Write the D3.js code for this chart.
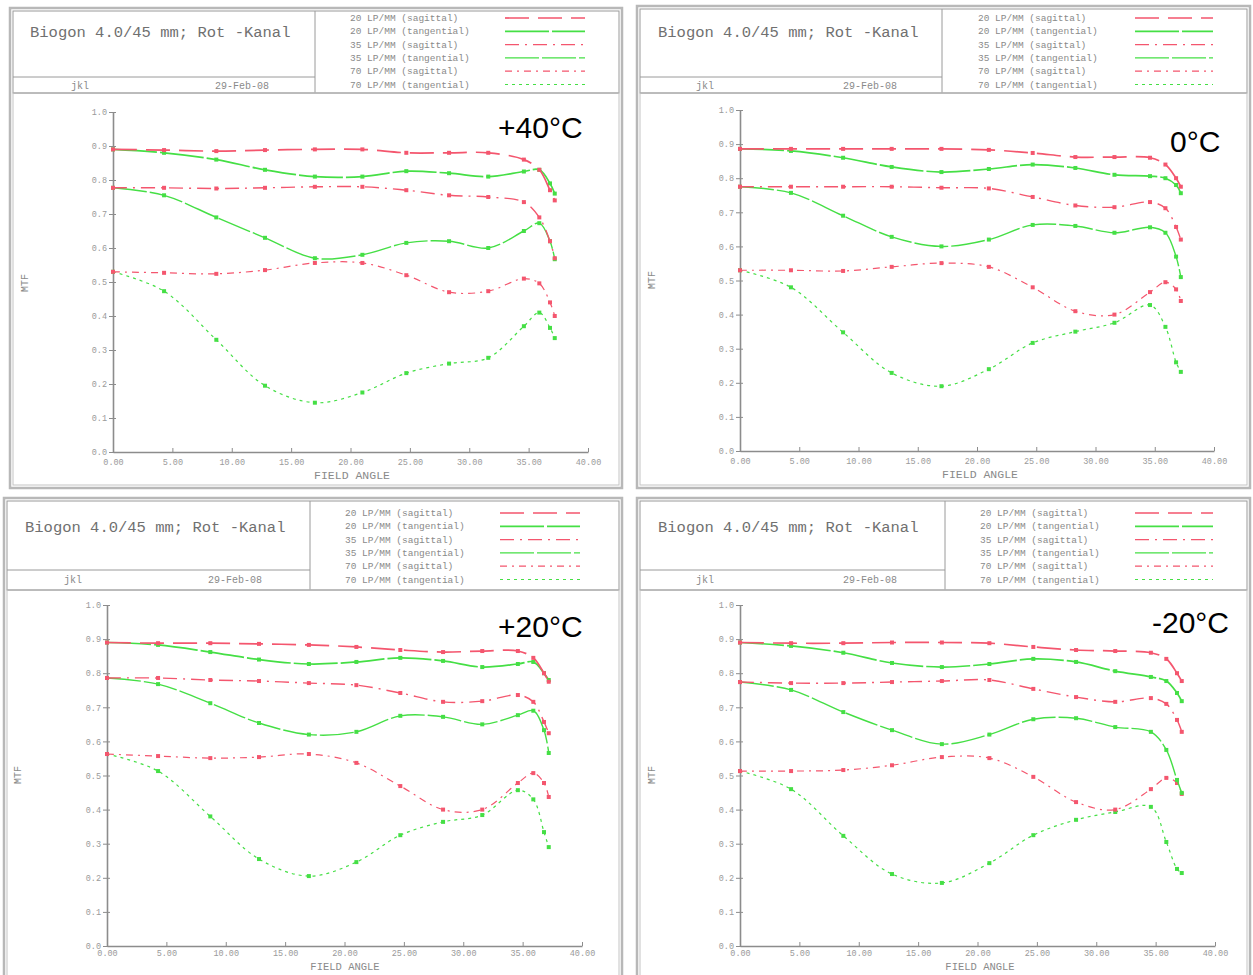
<!DOCTYPE html>
<html><head><meta charset="utf-8">
<script src="https://cdn.jsdelivr.net/npm/d3@7"></script>
<style>body{margin:0;background:#fff;} svg{display:block;}</style>
</head><body>
<svg id="chart" width="1253" height="975"></svg>
<script>
// ---------------- DATA ----------------
const fieldAngles = [0, 4.3, 8.7, 12.8, 17.0, 21.0, 24.7, 28.3, 31.6, 34.6, 35.9, 36.8, 37.2];
const seriesNames = ["20 LP/MM (sagittal)", "20 LP/MM (tangential)", "35 LP/MM (sagittal)",
                     "35 LP/MM (tangential)", "70 LP/MM (sagittal)", "70 LP/MM (tangential)"];
const temperatures = ["+40°C", "0°C", "+20°C", "-20°C"];
const xTicks = [0, 5, 10, 15, 20, 25, 30, 35, 40];
const yTicks = [0, 0.1, 0.2, 0.3, 0.4, 0.5, 0.6, 0.7, 0.8, 0.9, 1.0];
const chartTitle = "Biogon 4.0/45 mm; Rot -Kanal";
const authorLabel = "jkl";
const dateLabel = "29-Feb-08";
const xAxisLabel = "FIELD ANGLE";
const yAxisLabel = "MTF";

const mtfPlus40 = [
  [0.89, 0.888, 0.885, 0.888, 0.89, 0.89, 0.88, 0.88, 0.88, 0.86, 0.83, 0.77, 0.74],
  [0.89, 0.88, 0.86, 0.83, 0.81, 0.81, 0.826, 0.82, 0.81, 0.825, 0.83, 0.79, 0.76],
  [0.777, 0.777, 0.775, 0.777, 0.78, 0.78, 0.77, 0.755, 0.75, 0.735, 0.69, 0.62, 0.57],
  [0.777, 0.755, 0.69, 0.63, 0.57, 0.58, 0.615, 0.62, 0.60, 0.65, 0.673, 0.62, 0.567],
  [0.53, 0.527, 0.524, 0.535, 0.556, 0.556, 0.52, 0.47, 0.473, 0.51, 0.496, 0.44, 0.40],
  [0.53, 0.473, 0.33, 0.195, 0.145, 0.175, 0.232, 0.26, 0.277, 0.37, 0.41, 0.365, 0.335]
];
const mtfZero = [
  [0.886, 0.886, 0.886, 0.886, 0.886, 0.883, 0.874, 0.862, 0.862, 0.86, 0.84, 0.80, 0.775],
  [0.886, 0.88, 0.86, 0.833, 0.818, 0.827, 0.84, 0.83, 0.81, 0.806, 0.80, 0.78, 0.756],
  [0.775, 0.775, 0.775, 0.775, 0.772, 0.77, 0.745, 0.72, 0.715, 0.73, 0.712, 0.657, 0.62],
  [0.775, 0.757, 0.69, 0.628, 0.60, 0.62, 0.663, 0.66, 0.64, 0.656, 0.64, 0.57, 0.51],
  [0.53, 0.53, 0.528, 0.54, 0.551, 0.54, 0.48, 0.41, 0.40, 0.466, 0.495, 0.474, 0.44],
  [0.53, 0.48, 0.348, 0.229, 0.19, 0.24, 0.317, 0.35, 0.376, 0.428, 0.364, 0.26, 0.232]
];
const mtfPlus20 = [
  [0.89, 0.888, 0.888, 0.886, 0.883, 0.877, 0.868, 0.862, 0.865, 0.865, 0.845, 0.80, 0.775],
  [0.89, 0.883, 0.862, 0.84, 0.827, 0.833, 0.845, 0.836, 0.818, 0.827, 0.833, 0.80, 0.78],
  [0.786, 0.786, 0.78, 0.777, 0.771, 0.765, 0.742, 0.716, 0.718, 0.736, 0.716, 0.657, 0.624],
  [0.786, 0.768, 0.712, 0.654, 0.62, 0.628, 0.675, 0.672, 0.65, 0.677, 0.69, 0.633, 0.566],
  [0.563, 0.557, 0.551, 0.554, 0.563, 0.537, 0.469, 0.40, 0.40, 0.478, 0.507, 0.478, 0.437],
  [0.563, 0.513, 0.38, 0.255, 0.205, 0.246, 0.325, 0.364, 0.384, 0.457, 0.43, 0.334, 0.29]
];
const mtfMinus20 = [
  [0.89, 0.888, 0.888, 0.89, 0.89, 0.888, 0.877, 0.868, 0.865, 0.86, 0.842, 0.80, 0.777],
  [0.89, 0.88, 0.86, 0.83, 0.818, 0.827, 0.842, 0.833, 0.806, 0.789, 0.777, 0.742, 0.718],
  [0.774, 0.771, 0.771, 0.774, 0.777, 0.78, 0.754, 0.73, 0.716, 0.727, 0.71, 0.663, 0.628],
  [0.774, 0.751, 0.686, 0.633, 0.592, 0.62, 0.665, 0.668, 0.642, 0.628, 0.575, 0.487, 0.449],
  [0.513, 0.513, 0.516, 0.53, 0.554, 0.551, 0.496, 0.422, 0.40, 0.46, 0.493, 0.478, 0.446],
  [0.513, 0.46, 0.323, 0.211, 0.185, 0.243, 0.325, 0.37, 0.393, 0.408, 0.305, 0.226, 0.214]
];
const panelData = [mtfPlus40, mtfZero, mtfPlus20, mtfMinus20];

// ---------------- STYLE / LAYOUT ----------------
const RED = "#f4566e", GREEN = "#45df45";
const seriesStyle = [
  {color: RED,   dash: "24,9",        w: 1.7},
  {color: GREEN, dash: "44,3",        w: 1.7},
  {color: RED,   dash: "14,6,2,6",    w: 1.4},
  {color: GREEN, dash: "34,3",        w: 1.4},
  {color: RED,   dash: "7,5,2,5",     w: 1.2},
  {color: GREEN, dash: "3,4",         w: 1.2}
];
const layouts = [
  {fx0: 10,  fy0: 8,   fx1: 622,  fy1: 488, div: 315, jl: 77,  hb: 93,  px0: 113, px1: 588,  py0: 452, py1: 112,
   titleX: 30, titleY: 37, jklX: 80, dateX: 242, rowY: 89, legX: 350, legY0: 21, legL0: 505, legL1: 585,
   faX: 352, faY: 479, faSize: 11.5, tickPad: 7, mtfX: 28, mtfY: 283, tX: 498, tY: 138},
  {fx0: 637, fy0: 6,   fx1: 1250, fy1: 488, div: 942, jl: 77,  hb: 93,  px0: 740, px1: 1214, py0: 451, py1: 110,
   titleX: 658, titleY: 37, jklX: 705, dateX: 870, rowY: 89, legX: 978, legY0: 21, legL0: 1135, legL1: 1213,
   faX: 980, faY: 478, faSize: 11.5, tickPad: 7, mtfX: 655, mtfY: 280, tX: 1170, tY: 152},
  {fx0: 4,   fy0: 498, fx1: 622,  fy1: 979, div: 310, jl: 570, hb: 590, px0: 107, px1: 582,  py0: 946, py1: 605,
   titleX: 25, titleY: 532, jklX: 73, dateX: 235, rowY: 583, legX: 345, legY0: 516, legL0: 500, legL1: 580,
   faX: 345, faY: 970, faSize: 10.5, tickPad: 4, mtfX: 21, mtfY: 775, tX: 498, tY: 637},
  {fx0: 637, fy0: 498, fx1: 1250, fy1: 979, div: 945, jl: 570, hb: 590, px0: 740, px1: 1215, py0: 946, py1: 605,
   titleX: 658, titleY: 532, jklX: 705, dateX: 870, rowY: 583, legX: 980, legY0: 516, legL0: 1135, legL1: 1213,
   faX: 980, faY: 970, faSize: 10.5, tickPad: 4, mtfX: 655, mtfY: 775, tX: 1152, tY: 633}
];

const svg = d3.select("#chart");
const MONO = "'Liberation Mono','DejaVu Sans Mono',monospace";
const GREY = "#8a8a8a";

layouts.forEach((L, pi) => {
  const g = svg.append("g");
  // frame
  g.append("rect").attr("x", L.fx0).attr("y", L.fy0).attr("width", L.fx1 - L.fx0).attr("height", L.fy1 - L.fy0)
    .attr("fill", "#fff").attr("stroke", "#b8b8b8").attr("stroke-width", 2.5);
  g.append("rect").attr("x", L.fx0 + 3).attr("y", L.fy0 + 3).attr("width", L.fx1 - L.fx0 - 6).attr("height", L.hb - L.fy0 - 3)
    .attr("fill", "none").attr("stroke", "#9a9a9a").attr("stroke-width", 1);
  g.append("line").attr("x1", L.div).attr("x2", L.div).attr("y1", L.fy0 + 3).attr("y2", L.hb).attr("stroke", "#9a9a9a");
  g.append("line").attr("x1", L.fx0 + 3).attr("x2", L.div).attr("y1", L.jl).attr("y2", L.jl).attr("stroke", "#9a9a9a");
  g.append("line").attr("x1", L.fx0 + 3).attr("x2", L.fx1 - 3).attr("y1", L.hb).attr("y2", L.hb).attr("stroke", "#9a9a9a");
  g.append("rect").attr("x", L.fx0 + 3).attr("y", L.hb).attr("width", L.fx1 - L.fx0 - 6).attr("height", L.fy1 - L.hb - 3)
    .attr("fill", "none").attr("stroke", "#c4c4c4").attr("stroke-width", 1);

  // header texts
  g.append("text").attr("x", L.titleX).attr("y", L.titleY).text(chartTitle)
    .attr("font-family", MONO).attr("font-size", 15.5).attr("fill", "#707070");
  g.append("text").attr("x", L.jklX).attr("y", L.rowY).attr("text-anchor", "middle").text(authorLabel)
    .attr("font-family", MONO).attr("font-size", 10).attr("fill", GREY);
  g.append("text").attr("x", L.dateX).attr("y", L.rowY).attr("text-anchor", "middle").text(dateLabel)
    .attr("font-family", MONO).attr("font-size", 10).attr("fill", GREY);

  // legend
  seriesNames.forEach((name, i) => {
    const y = L.legY0 + i * 13.3;
    g.append("text").attr("x", L.legX).attr("y", y).text(name)
      .attr("font-family", MONO).attr("font-size", 9.5).attr("fill", GREY);
    g.append("line").attr("x1", L.legL0).attr("x2", L.legL1).attr("y1", y - 3).attr("y2", y - 3)
      .attr("stroke", seriesStyle[i].color).attr("stroke-width", seriesStyle[i].w)
      .attr("stroke-dasharray", seriesStyle[i].dash);
  });

  // scales
  const x = d3.scaleLinear().domain([0, 40]).range([L.px0, L.px1]);
  const y = d3.scaleLinear().domain([0, 1]).range([L.py0, L.py1]);

  // axes
  const xAxis = d3.axisBottom(x).tickValues(xTicks).tickFormat(d3.format(".2f")).tickSizeInner(-4).tickSizeOuter(0).tickPadding(L.tickPad);
  const yAxis = d3.axisLeft(y).tickValues(yTicks).tickFormat(d3.format(".1f")).tickSizeInner(4).tickSizeOuter(0).tickPadding(2);
  const gx = g.append("g").attr("transform", `translate(0,${L.py0})`).call(xAxis);
  const gy = g.append("g").attr("transform", `translate(${L.px0},0)`).call(yAxis);
  [gx, gy].forEach(a => {
    a.select(".domain").attr("stroke", "#8c8c8c").attr("stroke-width", 1.6);
    a.selectAll(".tick line").attr("stroke", "#8c8c8c");
    a.selectAll(".tick text").attr("font-family", MONO).attr("font-size", 8.5).attr("fill", "#9a9a9a");
  });
  gy.selectAll(".tick line").attr("x1", -4).attr("x2", 3);

  g.append("text").attr("x", L.faX).attr("y", L.faY).attr("text-anchor", "middle").text(xAxisLabel)
    .attr("font-family", MONO).attr("font-size", L.faSize).attr("fill", GREY);
  g.append("text").attr("transform", `translate(${L.mtfX},${L.mtfY}) rotate(-90)`).attr("text-anchor", "middle")
    .text(yAxisLabel).attr("font-family", MONO).attr("font-size", 10).attr("fill", GREY);

  // series
  const line = d3.line().x(d => x(d[0])).y(d => y(d[1])).curve(d3.curveCatmullRom.alpha(0.5));
  const data = panelData[pi];
  [5, 4, 3, 2, 1, 0].forEach(si => {
    const pts = fieldAngles.map((a, k) => [a, data[si][k]]);
    const st = seriesStyle[si];
    g.append("path").attr("d", line(pts)).attr("fill", "none")
      .attr("stroke", st.color).attr("stroke-width", st.w).attr("stroke-dasharray", st.dash);
    g.selectAll(null).data(pts).enter().append("rect")
      .attr("x", d => x(d[0]) - 2).attr("y", d => y(d[1]) - 2).attr("width", 4).attr("height", 4)
      .attr("fill", st.color);
  });

  // temperature label
  g.append("text").attr("x", L.tX).attr("y", L.tY).text(temperatures[pi])
    .attr("font-family", "'Liberation Sans',Arial,sans-serif").attr("font-size", 30).attr("fill", "#000");
});
</script>
</body></html>
